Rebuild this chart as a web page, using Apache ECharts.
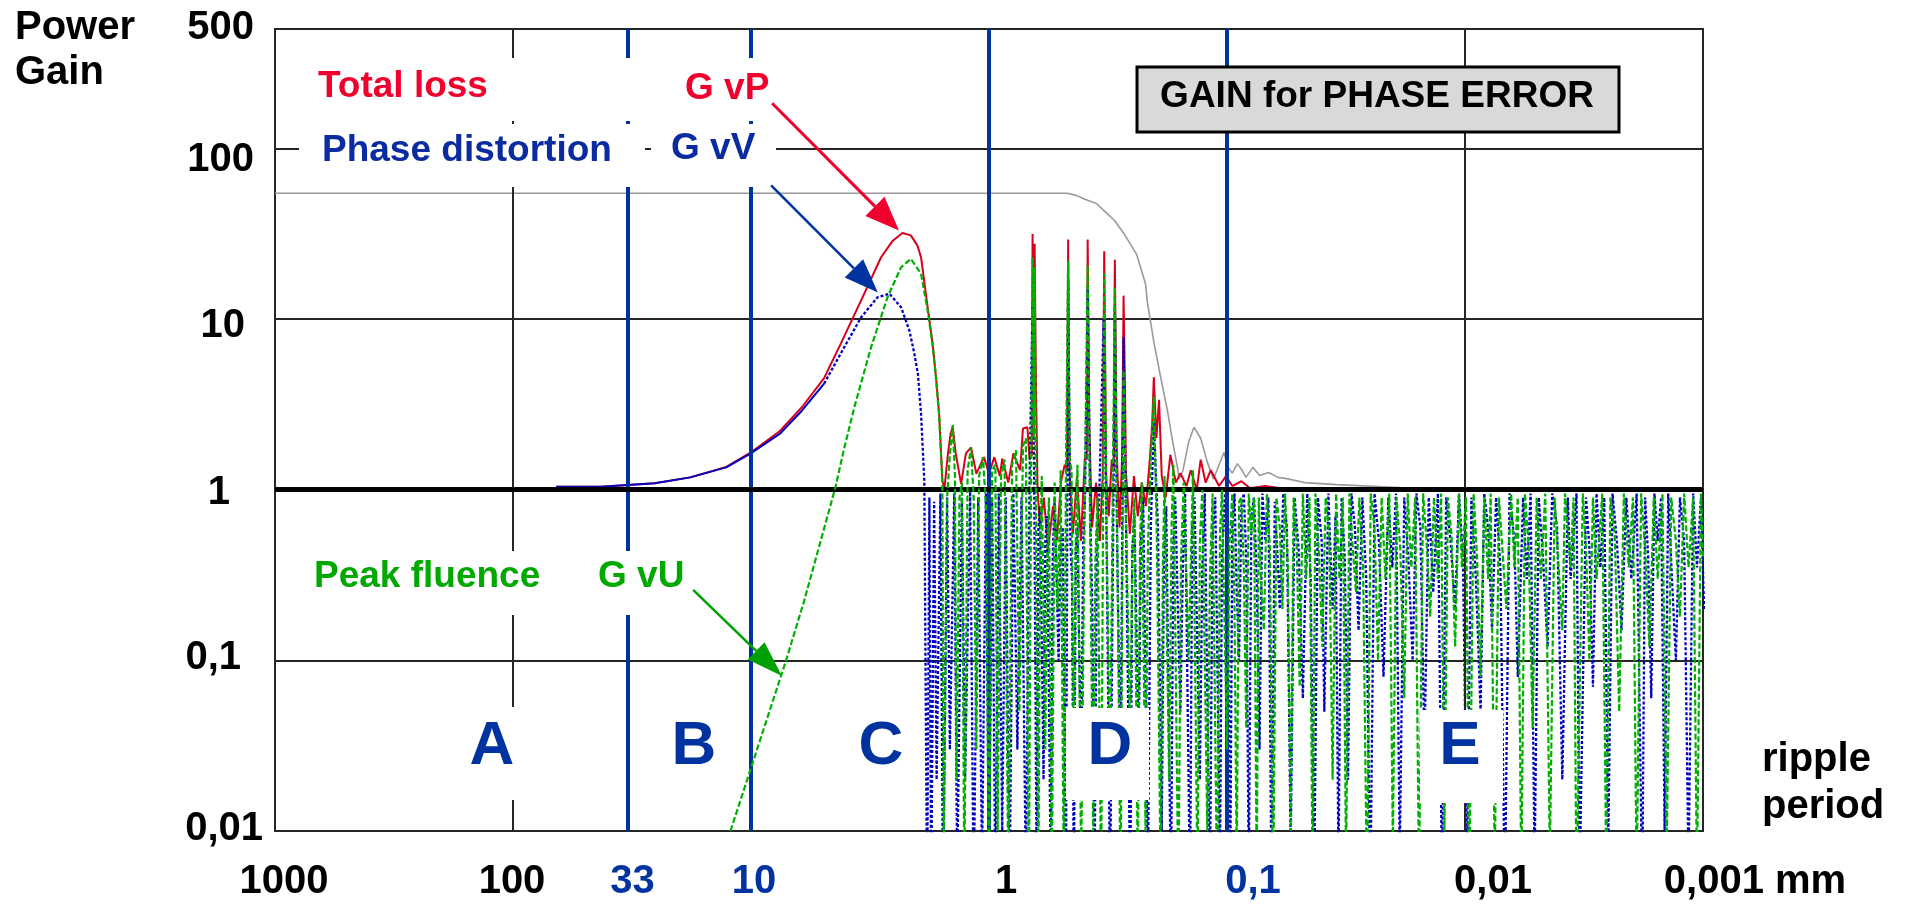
<!DOCTYPE html>
<html>
<head>
<meta charset="utf-8">
<title>Gain for phase error</title>
<script src="https://cdn.jsdelivr.net/npm/echarts@6/dist/echarts.min.js"></script>
<style>
html,body{margin:0;padding:0;background:#fff;}
#chart{width:1910px;height:904px;}
</style>
</head>
<body>
<div id="chart"></div>
<script>
// ---------------- data ----------------
// x: ripple period in mm (log, reversed), y: power gain (log)
const xTickValues = [1000, 100, 33, 10, 1, 0.1, 0.01, 0.001];
const xTickLabels = ['1000', '100', '33', '10', '1', '0,1', '0,01', '0,001 mm'];
const xTickBlue   = [false, false, true, true, false, true, false, false];
const yTickValues = [0.01, 0.1, 1, 10, 100, 500];
const yTickLabels = ['0,01', '0,1', '1', '10', '100', '500'];
const blueBoundaries = [33, 10, 1, 0.1];
const blackGridX = [100, 0.01];
const regionLetters = ['A', 'B', 'C', 'D', 'E'];

// grey envelope
const greyCurve = [[1000,54.5],[0.469,54.5],[0.43,53],[0.398,50.5],[0.354,47.5],[0.318,41.3],[0.298,38],[0.271,31.6],[0.240,24.0],[0.220,16.1],[0.216,12.5],[0.2025,7.2],[0.19,4.56],[0.178,2.91],[0.1695,1.94],[0.1615,1.35],[0.159,1.15],[0.153,1.3],[0.145,1.9],[0.1376,2.32],[0.129,2.0],[0.121,1.45],[0.114,1.15],[0.108,1.4],[0.103,1.65],[0.099,1.35],[0.095,1.25],[0.0904,1.42],[0.0865,1.3],[0.0833,1.18],[0.0778,1.35],[0.0729,1.21],[0.0668,1.26],[0.0611,1.18],[0.0561,1.16],[0.0472,1.10],[0.0346,1.07],[0.0188,1.03]];

// Total loss, G vP (red)
const redCurve = [[65.8,1.04],[42.6,1.04],[25.4,1.09],[18.0,1.18],[12.7,1.36],[10.1,1.64],[7.58,2.2],[6.10,3.05],[4.93,4.5],[4.19,7.2],[3.45,12.8],[2.84,23.0],[2.55,28.5],[2.31,31.9],[2.13,30.9],[2.0,27],[1.93,23.0],[1.81,11.7],[1.725,7.18],[1.67,4.56],[1.62,2.79],[1.57,1.13],
[1.54,1.0],[1.49,1.6],[1.45,2.13],[1.42,2.32],[1.38,1.63],[1.31,1.08],[1.25,1.63],[1.19,1.77],[1.13,1.24],[1.05,1.55],[1.0,1.24],[0.95,1.55],[0.9,1.2],[0.88,1.52],[0.83,1.1],[0.79,1.63],[0.74,1.3],[0.72,2.28],[0.69,2.32],[0.675,1.5],
[0.66,1.6],[0.656,31.5],[0.65,2.5],[0.643,27.6],[0.635,4.2],[0.625,1.0],[0.611,0.6],[0.588,0.9],[0.565,0.45],[0.538,0.8],[0.519,0.5],[0.499,1.1],[0.481,1.4],[0.47,1.3],[0.465,29.2],[0.459,1.3],[0.444,0.55],[0.427,1.2],[0.411,0.5],[0.395,1.6],[0.388,1.5],[0.385,29.2],[0.379,2.4],[0.369,0.6],[0.355,1.1],[0.342,0.5],[0.333,1.2],[0.328,24.9],[0.322,1.2],[0.314,0.7],[0.305,1.5],[0.299,1.3],[0.296,22.2],[0.291,1.8],[0.283,0.6],[0.276,1.5],[0.272,13.7],[0.268,3.5],[0.266,1.3],[0.256,0.55],[0.246,1.2],[0.237,0.7],[0.228,1.1],[0.219,0.8],[0.211,1.5],[0.206,2.5],[0.203,4.56],[0.198,2.0],[0.193,3.36],[0.188,1.2],[0.181,0.9],[0.173,1.6],[0.164,1.1],[0.157,1.25],[0.148,1.05],[0.142,1.3],[0.134,1.0],[0.129,1.5],[0.123,1.1],[0.117,1.3],[0.108,1.05],[0.101,1.2],[0.095,1.05],[0.087,1.12],[0.080,1.02],[0.069,1.05],[0.054,1.0],[0.02,1.0]];

// Phase distortion, G vV (blue) – smooth rising part
const blueRise = [[65.8,1.04],[42.6,1.04],[25.4,1.09],[18.0,1.18],[12.7,1.35],[10.1,1.62],[7.58,2.12],[6.10,2.91],[4.93,4.18]];
// blue – peak and oscillating part
const blueFall = [[4.93,4.18],[4.19,6.3],[3.45,10.2],[2.94,13.4],[2.62,14.05],[2.34,11.7],[2.16,8.56],[2.06,6.28],[1.99,4.79],[1.93,2.79],[1.87,1.13],[1.82,0.004],
[1.78,0.9],[1.75,0.004],[1.70,0.85],[1.66,0.02],[1.60,0.95],[1.56,0.004],[1.50,0.9],[1.46,0.03],[1.40,0.95],[1.36,0.005],[1.30,0.9],[1.26,0.02],[1.20,0.97],[1.16,0.004],[1.11,0.9],[1.07,0.006],[1.03,0.95],[1.0,0.005],[0.97,0.9],[0.94,0.004],[0.91,0.95],[0.88,0.01],[0.85,0.9],[0.82,0.004],[0.79,0.95],[0.76,0.03],[0.73,0.9],[0.70,0.005],
[0.675,1.2],[0.656,12.8],[0.645,0.9],[0.63,0.004],[0.62,0.6],[0.61,0.8],[0.59,0.02],[0.58,0.5],[0.57,0.7],[0.55,0.005],[0.54,0.4],[0.53,0.9],[0.51,0.1],[0.5,0.5],[0.49,0.6],[0.475,0.005],[0.465,17],[0.455,0.5],[0.448,0.3],[0.44,0.004],[0.432,0.45],[0.425,0.6],[0.41,0.02],[0.402,0.5],[0.395,0.9],[0.385,15],[0.375,0.7],[0.368,0.2],[0.36,0.005],[0.352,0.55],[0.345,0.8],[0.33,10],[0.32,0.4],[0.31,0.004],[0.30,0.9],[0.296,12],[0.29,0.6],[0.28,0.02],[0.272,7.8],[0.265,0.5],[0.255,0.004],[0.25,0.45],[0.245,0.7],[0.235,0.03],[0.23,0.5],[0.225,0.9],[0.215,0.005],[0.209,0.6],[0.203,2.5],[0.195,0.6],[0.188,0.01],[0.184,0.4],[0.18,0.8],[0.172,0.004],[0.168,0.5],[0.165,0.9],[0.157,0.05],[0.153,0.4],[0.15,0.95],[0.143,0.004],[0.14,0.6],[0.137,0.9],[0.13,0.02],[0.127,0.35],[0.124,0.95],[0.118,0.004],[0.115,0.55],[0.112,0.9],[0.107,0.006],[0.105,0.4],[0.102,0.95],[0.099,0.2],[0.097,0.004],
[0.095,0.6],[0.093,0.95],[0.091,0.25],[0.089,0.1],[0.087,0.8],[0.085,0.95],[0.083,0.4],[0.081,0.005],[0.079,0.7],[0.077,0.9],[0.075,0.3],[0.073,0.03],[0.071,0.95],[0.069,0.5],[0.067,0.9],[0.065,0.004],[0.063,0.85],[0.061,0.35],[0.060,0.2],[0.058,0.95],[0.056,0.6],[0.054,0.008],[0.052,0.9],[0.050,0.45],[0.048,0.06],[0.046,0.95],[0.0445,0.3],[0.043,0.005],[0.0415,0.9],[0.040,0.5],[0.039,0.05],[0.0375,0.95],[0.036,0.2],[0.035,0.7],[0.034,0.006],[0.033,0.9],[0.032,0.4],[0.031,0.02],[0.030,0.95],[0.029,0.6],[0.028,0.15],[0.027,0.9],[0.026,0.3],[0.025,0.004],[0.024,0.95],[0.023,0.5],[0.022,0.08],[0.021,0.9],[0.0202,0.35],[0.0195,0.95],[0.0188,0.007],[0.018,0.9],[0.0173,0.4],[0.0166,0.1],[0.016,0.95],[0.0154,0.6],[0.0148,0.03],[0.0142,0.9],[0.0136,0.25],[0.013,0.95],[0.0125,0.005],[0.012,0.9],[0.0115,0.5],[0.011,0.2],[0.0106,0.95],[0.0102,0.4],[0.0098,0.006],[0.0094,0.9],[0.009,0.3],[0.0086,0.05],[0.0083,0.95],[0.008,0.6],[0.0077,0.15],[0.0074,0.9],[0.0071,0.35],[0.0068,0.004],[0.0065,0.95],[0.0062,0.5],[0.006,0.08],[0.0057,0.9],[0.0055,0.3],[0.0053,0.95],[0.0051,0.006],[0.0049,0.9],[0.0047,0.4],[0.0045,0.12],[0.0043,0.95],[0.0041,0.6],[0.0039,0.02],[0.0037,0.9],[0.0036,0.3],[0.0034,0.95],[0.0033,0.005],[0.0031,0.9],[0.003,0.45],[0.0029,0.07],[0.0028,0.95],[0.0027,0.35],[0.0026,0.9],[0.0025,0.008],[0.0024,0.95],[0.0023,0.5],[0.0022,0.15],[0.0021,0.9],[0.002,0.3],[0.0019,0.95],[0.0018,0.004],[0.00175,0.9],[0.0017,0.4],[0.00165,0.06],[0.0016,0.95],[0.00155,0.5],[0.0015,0.9],[0.00145,0.01],[0.0014,0.95],[0.00135,0.3],[0.0013,0.1],[0.00125,0.9],[0.0012,0.5],[0.00115,0.006],[0.0011,0.95],[0.00106,0.35],[0.00102,0.9],[0.00099,0.2]];

// Peak fluence, G vU (green)
const greenCurve = [[12.2,0.01],[7.12,0.1],[5.98,0.223],[4.42,1.03],[4.05,1.77],[3.68,3.04],[3.13,6.83],[2.67,13.4],[2.34,20.1],[2.13,22.5],[1.93,18.4],[1.81,11.2],[1.725,7.0],[1.67,4.5],[1.62,2.7],[1.57,1.1],[1.55,0.006],
[1.50,0.9],[1.46,1.6],[1.42,2.4],[1.39,1.2],[1.37,0.02],[1.33,0.9],[1.30,1.1],[1.27,0.005],[1.23,1.3],[1.19,1.77],[1.16,0.9],[1.13,0.03],[1.10,1.2],[1.06,1.55],[1.03,0.8],[1.0,0.004],[0.97,1.3],[0.94,1.4],[0.92,0.01],[0.89,1.2],[0.86,1.5],[0.83,0.005],[0.80,1.4],[0.77,1.7],[0.745,0.05],[0.72,1.8],[0.70,2.0],[0.68,0.004],
[0.665,1.5],[0.656,23],[0.648,2.0],[0.643,20],[0.635,0.8],[0.62,0.005],[0.61,0.45],[0.60,1.2],[0.58,0.03],[0.57,0.4],[0.56,0.9],[0.545,0.004],[0.53,1.1],[0.515,0.2],[0.505,0.6],[0.50,1.3],[0.485,0.005],[0.475,1.4],[0.465,21.9],[0.458,1.5],[0.45,1.3],[0.44,0.02],[0.432,0.5],[0.425,1.4],[0.41,0.006],[0.395,1.2],[0.385,20.6],[0.378,1.2],[0.365,0.01],[0.357,0.4],[0.35,0.9],[0.338,0.004],[0.328,18.4],[0.32,0.5],[0.31,0.02],[0.302,1.0],[0.296,15.3],[0.29,0.8],[0.28,0.004],[0.272,5.0],[0.265,0.6],[0.255,0.03],[0.25,0.4],[0.245,0.9],[0.237,0.005],[0.232,0.5],[0.228,1.1],[0.22,0.01],[0.215,0.45],[0.21,1.3],[0.203,3.5],[0.197,0.5],[0.19,0.005],[0.186,0.35],[0.183,1.2],[0.175,0.02],[0.171,0.6],[0.168,1.4],[0.16,0.004],[0.156,0.4],[0.152,1.1],[0.145,0.1],[0.139,1.3],[0.133,0.005],[0.13,0.5],[0.127,1.0],[0.121,0.01],[0.118,0.3],[0.115,0.95],[0.11,0.004],[0.107,0.55],[0.105,1.0],[0.1,0.03],
[0.0975,0.5],[0.095,0.95],[0.093,0.2],[0.091,0.006],[0.089,0.85],[0.087,0.9],[0.085,0.35],[0.083,0.04],[0.081,0.95],[0.079,0.55],[0.077,0.9],[0.075,0.005],[0.0735,0.9],[0.072,0.3],[0.070,0.15],[0.068,0.95],[0.066,0.45],[0.064,0.004],[0.062,0.9],[0.060,0.6],[0.0585,0.2],[0.057,0.95],[0.0555,0.35],[0.054,0.01],[0.0525,0.9],[0.051,0.5],[0.0495,0.07],[0.048,0.95],[0.0465,0.3],[0.045,0.9],[0.0437,0.005],[0.0425,0.95],[0.041,0.4],[0.0398,0.12],[0.0385,0.9],[0.0372,0.55],[0.036,0.02],[0.0348,0.95],[0.0337,0.3],[0.0326,0.9],[0.0316,0.006],[0.0306,0.95],[0.0296,0.45],[0.0287,0.25],[0.0278,0.9],[0.0268,0.35],[0.0258,0.004],[0.0249,0.95],[0.024,0.6],[0.0232,0.1],[0.0224,0.9],[0.0216,0.3],[0.0208,0.95],[0.0201,0.008],[0.0194,0.9],[0.0187,0.45],[0.018,0.06],[0.0174,0.95],[0.0168,0.35],[0.0162,0.9],[0.0156,0.005],[0.015,0.95],[0.0145,0.5],[0.014,0.18],[0.0135,0.9],[0.013,0.3],[0.0126,0.95],[0.0122,0.01],[0.0118,0.9],[0.0114,0.55],[0.011,0.12],[0.0106,0.95],[0.0103,0.35],[0.0099,0.9],[0.0096,0.004],[0.0092,0.95],[0.0089,0.4],[0.0086,0.08],[0.0083,0.9],[0.008,0.3],[0.0078,0.95],[0.0075,0.006],[0.0072,0.9],[0.007,0.5],[0.0067,0.2],[0.0064,0.95],[0.0062,0.35],[0.006,0.9],[0.0058,0.005],[0.0056,0.95],[0.0054,0.45],[0.0052,0.04],[0.005,0.9],[0.0048,0.3],[0.0046,0.95],[0.0044,0.007],[0.0042,0.9],[0.0041,0.5],[0.0039,0.15],[0.0038,0.95],[0.0036,0.35],[0.0035,0.9],[0.0034,0.004],[0.0032,0.95],[0.0031,0.45],[0.003,0.1],[0.0029,0.9],[0.0028,0.3],[0.00265,0.95],[0.00255,0.006],[0.00245,0.9],[0.00235,0.55],[0.00225,0.05],[0.00215,0.95],[0.00205,0.35],[0.00197,0.9],[0.0019,0.005],[0.00182,0.95],[0.00175,0.45],[0.00168,0.12],[0.00161,0.9],[0.00155,0.3],[0.00148,0.95],[0.00142,0.008],[0.00136,0.9],[0.0013,0.5],[0.00125,0.18],[0.0012,0.95],[0.00115,0.35],[0.0011,0.9],[0.00106,0.005],[0.00102,0.95],[0.001,0.4]];

// annotation arrows: from label to curve peak (data coordinates)
const arrowRed   = [[8.15, 183.6], [2.39, 33.0]];
const arrowBlue  = [[8.23, 60.7], [2.93, 14.3]];
const arrowGreen = [[17.5, 0.259], [7.41, 0.081]];

// ---------------- styling / layout ----------------
const FONT = '"Liberation Sans", Arial, Helvetica, sans-serif';
const C_RED = '#d8001c', C_RED_T = '#f0002c';
const C_BLUE = '#0000c0', C_BLUE_T = '#0a2ca0', C_BLUE_LINE = '#0033a0';
const C_GREEN = '#00b000', C_GREEN_T = '#00a800';
const C_GRID = '#262626';

const chart = echarts.init(document.getElementById('chart'), null, {renderer: 'canvas'});

function curve(name, data, color, width, type, z) {
  return {
    name: name, type: 'line', data: data, symbol: 'none', showSymbol: false,
    silent: true, z: z, clip: true,
    lineStyle: {color: color, width: width, type: type}
  };
}

const vLines = blueBoundaries.map(v => ({xAxis: v, lineStyle: {color: C_BLUE_LINE, width: 4, type: 'solid'}}))
  .concat(blackGridX.map(v => ({xAxis: v, lineStyle: {color: C_GRID, width: 2, type: 'solid'}})));

chart.setOption({
  animation: false,
  backgroundColor: '#ffffff',
  grid: {left: 275, right: 207, top: 29, bottom: 73, show: true, borderColor: C_GRID, borderWidth: 2, backgroundColor: 'transparent'},
  xAxis: {
    type: 'log', logBase: 10, min: 0.001, max: 1000, inverse: true,
    axisLine: {show: false}, axisTick: {show: false}, axisLabel: {show: false}, splitLine: {show: false}
  },
  yAxis: {
    type: 'log', logBase: 10, min: 0.01, max: 500,
    axisLine: {show: false}, axisTick: {show: false}, axisLabel: {show: false},
    splitLine: {show: true, lineStyle: {color: C_GRID, width: 2}}
  },
  series: [
    curve('envelope', greyCurve, '#9a9a9a', 1.6, 'solid', 2),
    curve('Total loss', redCurve, C_RED, 2, 'solid', 3),
    curve('Phase distortion', blueRise, C_BLUE, 2, 'solid', 4),
    curve('Phase distortion osc', blueFall, C_BLUE, 2.3, [3, 2], 4),
    curve('Peak fluence', greenCurve, C_GREEN, 2.2, [6, 2.5], 5),
    {
      name: 'guides', type: 'line', data: [], z: 6, silent: true,
      markLine: {
        silent: true, symbol: ['none', 'none'], label: {show: false}, animation: false,
        lineStyle: {type: 'solid'},
        data: vLines.concat([{yAxis: 1, lineStyle: {color: '#000', width: 5, type: 'solid'}}])
      }
    }
  ]
});

// ---------------- annotations (graphic) ----------------
const px = (x, y) => chart.convertToPixel({xAxisIndex: 0, yAxisIndex: 0}, [x, y]);
const els = [];
function txt(text, x, y, size, color, align, extra) {
  els.push(Object.assign({
    type: 'text', x: x, y: y, z: 30, silent: true,
    style: {text: text, fill: color, font: 'bold ' + size + 'px ' + FONT, align: align || 'left', verticalAlign: 'middle'}
  }, extra || {}));
}
function box(x, y, w, h) {
  els.push({type: 'rect', z: 20, silent: true, shape: {x: x, y: y, width: w, height: h}, style: {fill: '#ffffff'}});
}
function arrow(pts, color, lw, headL, headW) {
  const a = px(pts[0][0], pts[0][1]);
  const b = px(pts[1][0], pts[1][1]);
  const dx = b[0] - a[0], dy = b[1] - a[1];
  const len = Math.sqrt(dx * dx + dy * dy);
  const ux = dx / len, uy = dy / len;
  const bx = b[0] - ux * headL, by = b[1] - uy * headL;
  const nx = -uy, ny = ux;
  els.push({type: 'line', z: 25, silent: true, shape: {x1: a[0], y1: a[1], x2: bx, y2: by}, style: {stroke: color, lineWidth: lw}});
  els.push({type: 'polygon', z: 25, silent: true,
    shape: {points: [[b[0], b[1]], [bx + nx * headW / 2, by + ny * headW / 2], [bx - nx * headW / 2, by - ny * headW / 2]]},
    style: {fill: color}});
}

// white label boxes (they hide grid lines / curves behind the labels)
box(299, 58, 477, 63);
box(299, 124, 346, 63);
box(651, 124, 125, 63);
box(299, 551, 391, 64);
box(450, 707, 85, 93);
box(1066, 708, 83, 92);
box(1420, 710, 83, 93);

// title box
els.push({type: 'rect', z: 20, silent: true, shape: {x: 1137, y: 67, width: 482, height: 65}, style: {fill: '#d9d9d9', stroke: '#000', lineWidth: 3}});
txt('GAIN for PHASE ERROR', 1377, 97, 37, '#000', 'center');

// curve labels
txt('Total loss', 318, 87, 37, C_RED_T);
txt('G vP', 685, 89, 37, C_RED_T);
txt('Phase distortion', 322, 151, 37, C_BLUE_T);
txt('G vV', 671, 149, 37, C_BLUE_T);
txt('Peak fluence', 314, 577, 37, C_GREEN_T);
txt('G vU', 598, 577, 37, C_GREEN_T);

arrow(arrowRed, C_RED_T, 3, 34, 27);
arrow(arrowBlue, C_BLUE_LINE, 2.5, 34, 26);
arrow(arrowGreen, '#00a000', 2.5, 36, 24);

// axis titles
txt('Power', 15, 28, 40, '#000');
txt('Gain', 15, 73, 40, '#000');
txt('ripple', 1762, 760, 40, '#000');
txt('period', 1762, 807, 40, '#000');

// region letters
const letterX = [492, 694, 881, 1110, 1460];
regionLetters.forEach((L, i) => txt(L, letterX[i], 747, 62, C_BLUE_LINE, 'center'));

// tick labels (positions from the axes)
const xLabelDx = [9, -1, 5, 3, 17, 26, 28, 52];
xTickValues.forEach((v, i) => {
  const p = px(v, 1);
  txt(xTickLabels[i], p[0] + xLabelDx[i], 882, 40, xTickBlue[i] ? C_BLUE_LINE : '#000', 'center');
});
const yLabelRight = [263, 241, 230, 245, 254, 254];
const yLabelDy = [-2, -2, 3, 7, 12, -1];
yTickValues.forEach((v, i) => {
  const p = px(1, v);
  txt(yTickLabels[i], yLabelRight[i], p[1] + yLabelDy[i], 40, '#000', 'right');
});

chart.setOption({graphic: {elements: els}});
</script>
</body>
</html>
